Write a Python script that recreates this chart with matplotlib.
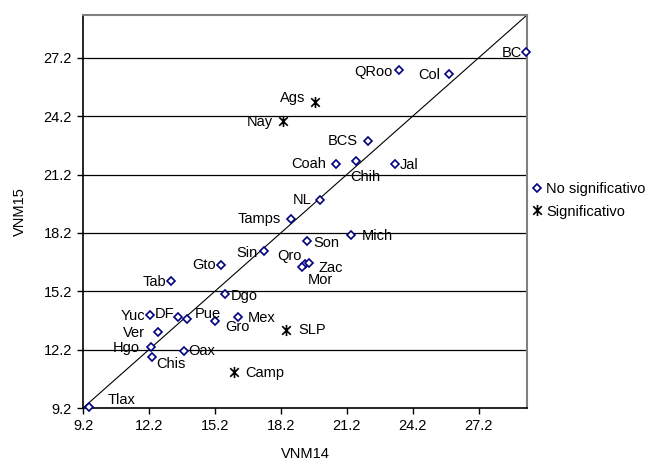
import matplotlib
matplotlib.use("Agg")
import matplotlib.pyplot as plt
from matplotlib.path import Path

plt.rcParams["font.family"] = ["Liberation Sans", "DejaVu Sans"]

# VNM14 (x) vs VNM15 (y) por entidad
states_ns = ["Tlax", "Hgo", "Chis", "Ver", "Yuc", "DF", "Pue", "Oax", "Tab", "Gto",
             "Dgo", "Gro", "Mex", "Sin", "Qro", "Son", "Zac", "Mor", "Coah", "NL",
             "Tamps", "BC", "QRoo", "Col", "BCS", "Chih", "Jal", "Mich"]
vnm14_ns = [9.49, 12.28, 12.35, 12.59, 12.26, 13.50, 13.94, 13.78, 13.22, 15.50,
            15.65, 15.20, 16.26, 17.44, 19.32, 19.38, 19.46, 19.15, 20.73, 20.00,
            18.65, 29.34, 23.58, 25.85, 22.15, 21.64, 23.41, 21.37]
vnm15_ns = [9.27, 12.34, 11.82, 13.13, 13.99, 13.90, 13.75, 12.14, 15.73, 16.57,
            15.08, 13.65, 13.90, 17.25, 16.62, 17.76, 16.67, 16.43, 21.75, 19.87,
            18.93, 27.50, 26.58, 26.36, 22.94, 21.88, 21.75, 18.07]

states_s = ["Camp", "SLP", "Ags", "Nay"]
vnm14_s = [16.06, 18.43, 19.75, 18.30]
vnm15_s = [11.03, 13.20, 24.91, 23.93]

ticks = [9.2, 12.2, 15.2, 18.2, 21.2, 24.2, 27.2]

# label offsets in pixels (dx, dy, ha)
label_pos = {
    "Tlax": (18, 7, "left"), "Hgo": (-11, -1, "right"), "Chis": (4, -7, "left"),
    "Ver": (-13, -1, "right"), "Yuc": (-5, -1, "right"), "DF": (-3, 3, "right"),
    "Pue": (8, 5, "left"), "Oax": (5, 0, "left"), "Tab": (-5, -1, "right"),
    "Gto": (-6, 0, "right"), "Dgo": (6, -2, "left"), "Gro": (10, -6, "left"),
    "Mex": (10, -1, "left"), "Camp": (11, -1, "left"), "SLP": (12, 0, "left"),
    "Sin": (-7, -2, "right"), "Qro": (-4, 8, "right"), "Son": (7, -2, "left"),
    "Zac": (10, -5, "left"), "Mor": (6, -13, "left"), "Ags": (-10, 4, "right"),
    "Nay": (-10, -1, "right"), "Coah": (-10, 0, "right"), "NL": (-9, 0, "right"),
    "Tamps": (-10, 0, "right"), "BC": (-4, -1, "right"), "QRoo": (-7, -2, "right"),
    "Col": (-9, -1, "right"), "BCS": (-10, 0, "right"), "Chih": (-6, -16, "left"),
    "Jal": (4, -1, "left"), "Mich": (11, -1, "left"),
}

# Excel-style star: an X with a vertical bar
star = Path([(-1, -1), (1, 1), (-1, 1), (1, -1), (0, -1.3), (0, 1.3)],
            [Path.MOVETO, Path.LINETO, Path.MOVETO, Path.LINETO, Path.MOVETO, Path.LINETO])

fig = plt.figure(figsize=(6.71, 4.68), dpi=100)
ax = fig.add_axes([0.1237, 0.1282, 0.6617, 0.8397])

lo, hi = 9.2, 29.4
ax.set_xlim(lo, hi)
ax.set_ylim(lo, hi)

for t in ticks[1:]:
    ax.axhline(t, color="black", linewidth=0.9, zorder=1)
ax.plot([lo, hi], [lo, hi], color="black", linewidth=0.8, zorder=2)

ax.plot(vnm14_ns, vnm15_ns, linestyle="none", marker="D", markersize=3.6,
        markerfacecolor="white", markeredgecolor="#000080", markeredgewidth=1.2,
        label="No significativo", zorder=3, clip_on=False)
ax.plot(vnm14_s, vnm15_s, linestyle="none", marker=star, markersize=8,
        markerfacecolor="none", markeredgecolor="black", markeredgewidth=1.2,
        label="Significativo", zorder=3, clip_on=False)

for names, xs, ys in [(states_ns, vnm14_ns, vnm15_ns), (states_s, vnm14_s, vnm15_s)]:
    for n, x, y in zip(names, xs, ys):
        dx, dy, ha = label_pos[n]
        ax.annotate(n, (x, y), xytext=(dx, dy), textcoords="offset pixels",
                    ha=ha, va="center", fontsize=10.5, zorder=4)

ax.set_xticks(ticks)
ax.set_yticks(ticks)
ax.set_xticklabels([f"{t:.1f}" for t in ticks])
ax.set_yticklabels([f"{t:.1f}" for t in ticks])
ax.tick_params(axis="both", direction="out", length=4, width=1, labelsize=10.5,
               color="black", pad=4)

for side in ["left", "bottom"]:
    ax.spines[side].set_color("black")
    ax.spines[side].set_linewidth(1.2)
for side in ["top", "right"]:
    ax.spines[side].set_color("#808080")
    ax.spines[side].set_linewidth(1.5)

ax.set_xlabel("VNM14", fontsize=10.5, labelpad=10)
ax.set_ylabel("VNM15", fontsize=10.5, labelpad=12)

ax.legend(loc="center left", bbox_to_anchor=(1.0, 0.528), frameon=False,
          fontsize=10.5, handlelength=0.6, handletextpad=0.3, labelspacing=0.55,
          borderaxespad=0.0)

fig.savefig("out.png", dpi=100)
